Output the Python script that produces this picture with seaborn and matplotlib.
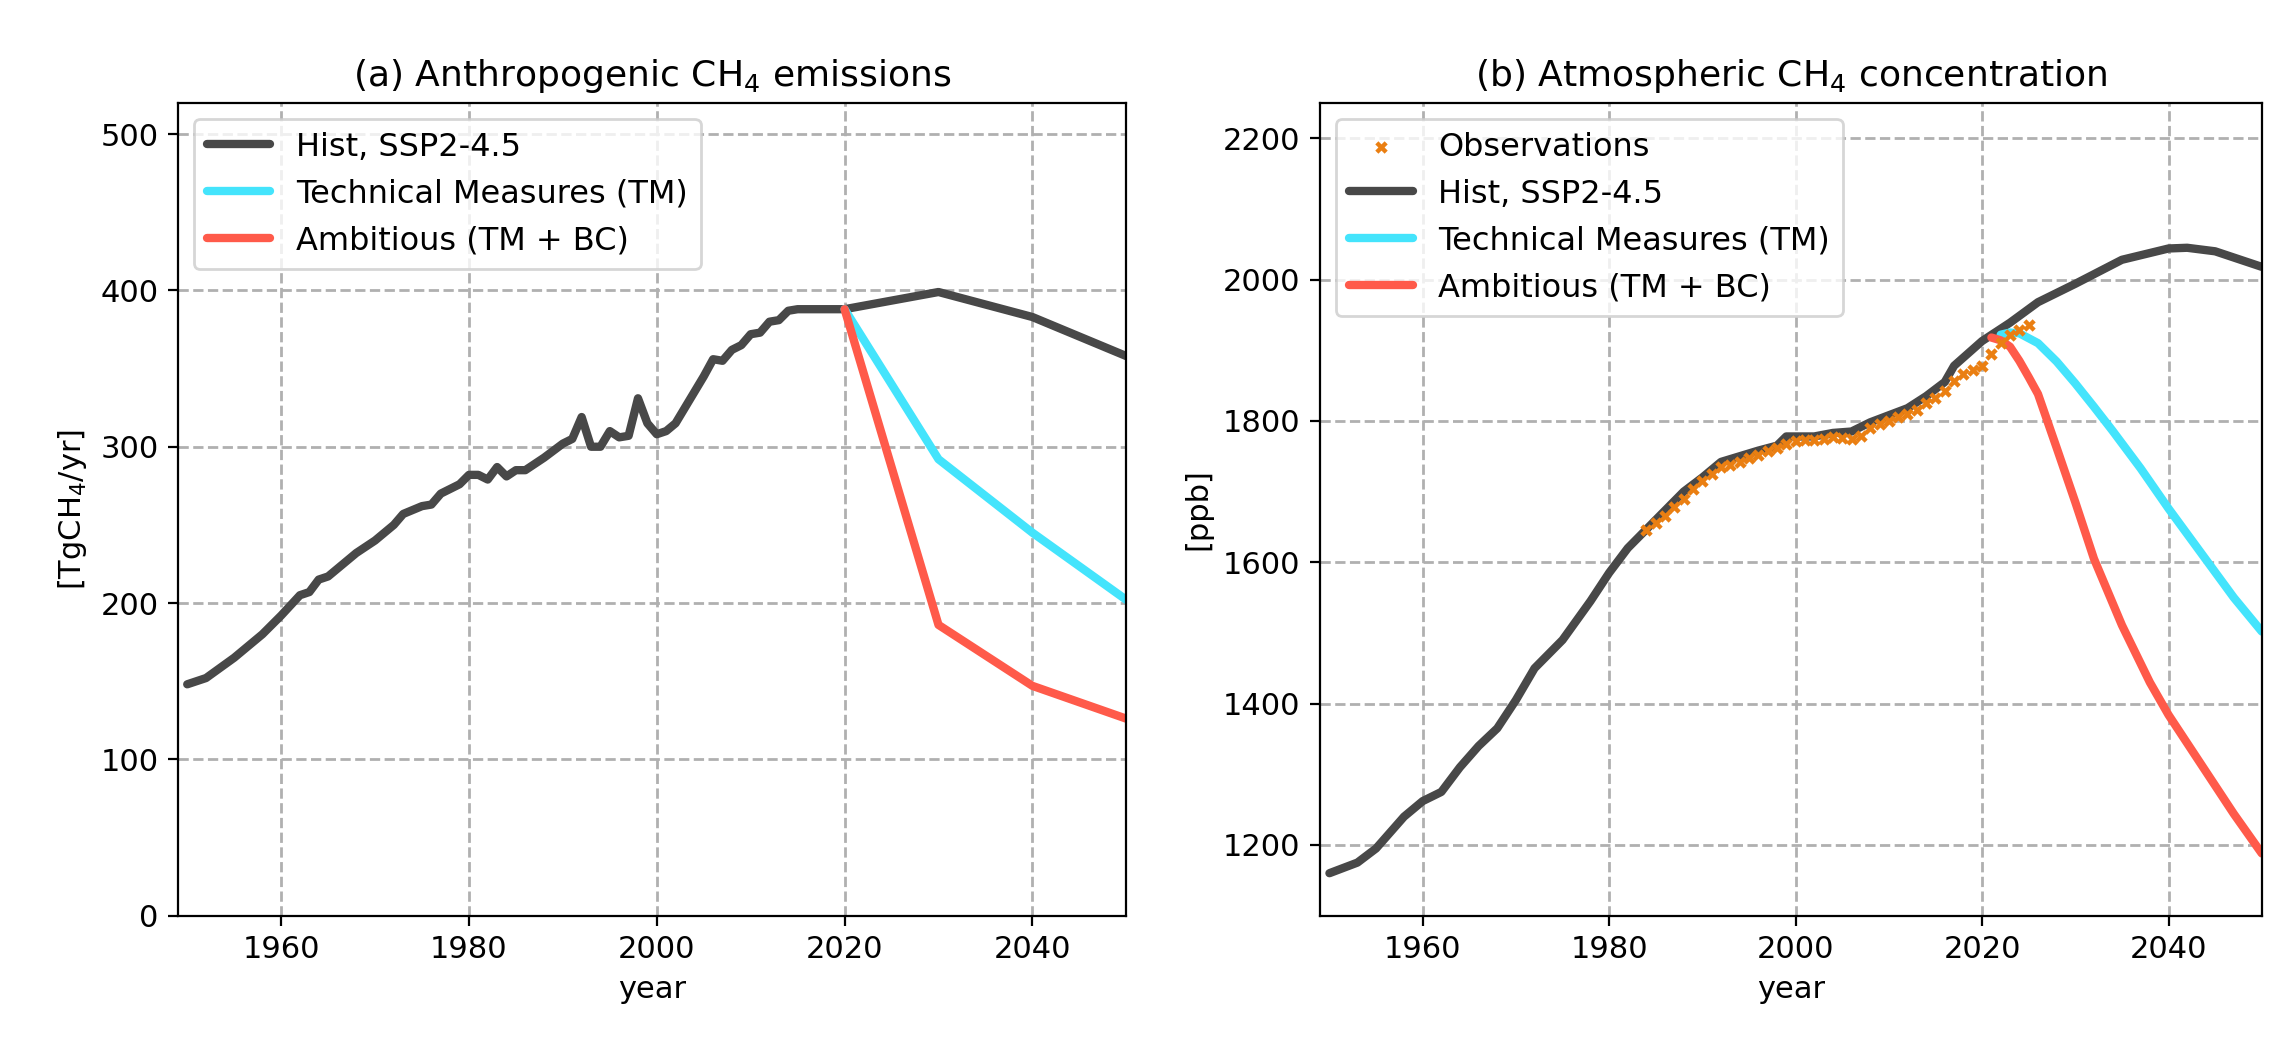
import matplotlib
matplotlib.use("Agg")
import matplotlib.pyplot as plt
import seaborn as sns

hist_em_years = [1950,1952,1955,1958,1960,1962,1963,1964,1965,1966,1968,1970,1972,1973,1975,1976,1977,1979,1980,1981,1982,1983,1984,1985,1986,1988,1990,1991,1992,1993,1994,1995,1996,1997,1998,1999,2000,2001,2002,2003,2004,2005,2006,2007,2008,2009,2010,2011,2012,2013,2014,2015,2020,2030,2040,2050]
hist_em = [148,152,165,180,192,205,207,215,217,222,232,240,250,257,262,263,270,276,282,282,279,287,281,285,285,293,302,305,319,300,300,310,306,307,331,315,308,310,315,325,335,345,356,355,362,365,372,373,380,381,387,388,388,399,383,358]
scen_years = [2020,2030,2040,2050]
tm_em = [388,292,245,202]
amb_em = [388,186,147,126]

hist_c_years = [1950,1953,1955,1958,1960,1962,1964,1966,1968,1970,1972,1975,1978,1980,1982,1985,1988,1990,1992,1994,1996,1998,1999,2000,2002,2004,2006,2008,2010,2012,2014,2016,2017,2020,2023,2026,2030,2035,2040,2042,2045,2050]
hist_c = [1160,1175,1195,1240,1262,1275,1310,1340,1365,1405,1450,1490,1545,1585,1620,1660,1700,1720,1742,1750,1758,1765,1778,1778,1778,1783,1785,1798,1808,1818,1835,1855,1878,1913,1939,1968,1994,2028,2044,2045,2040,2018]
tm_c_years = [2022,2023,2024,2026,2028,2030,2032,2034,2037,2040,2044,2047,2050]
tm_c = [1922,1925,1924,1910,1884,1853,1820,1786,1733,1676,1604,1550,1502]
amb_c_years = [2021,2022,2023,2024,2025,2026,2027,2028,2030,2032,2035,2038,2040,2044,2047,2050]
amb_c = [1918,1914,1905,1885,1862,1838,1800,1762,1685,1605,1511,1430,1384,1304,1244,1188]
obs_years = [1984,1985,1986,1987,1988,1989,1990,1991,1992,1993,1994,1995,1996,1997,1998,1999,2000,2001,2002,2003,2004,2005,2006,2007,2008,2009,2010,2011,2012,2013,2014,2015,2016,2017,2018,2019,2020,2021,2022,2023,2024,2025]
obs = [1645,1655,1665,1678,1690,1703,1715,1725,1735,1737,1742,1748,1752,1757,1762,1768,1772,1773,1773,1775,1777,1776,1775,1778,1790,1795,1800,1805,1810,1815,1825,1833,1843,1857,1866,1872,1878,1894,1910,1921,1929,1936]

sns.set_style("ticks")
plt.rcParams['font.family'] = ['DejaVu Sans']
plt.rcParams['xtick.color'] = 'black'
plt.rcParams['ytick.color'] = 'black'
plt.rcParams['axes.labelcolor'] = 'black'
plt.rcParams['text.color'] = 'black'
dark, cyan, red = '#484848', '#44e4fc', '#ff5a4a'
lw = 3

fig = plt.figure(figsize=(11.4, 5.25), dpi=200)
ax1 = fig.add_axes([0.078, 0.128, 0.416, 0.774])
ax2 = fig.add_axes([0.579, 0.128, 0.413, 0.774])

sns.lineplot(x=hist_em_years, y=hist_em, ax=ax1, color=dark, lw=lw, label='Hist, SSP2-4.5')
sns.lineplot(x=scen_years, y=tm_em, ax=ax1, color=cyan, lw=lw, label='Technical Measures (TM)')
sns.lineplot(x=scen_years, y=amb_em, ax=ax1, color=red, lw=lw, label='Ambitious (TM + BC)')
ax1.set_xlim(1949, 2050); ax1.set_ylim(0, 520)
ax1.set_title('(a) Anthropogenic CH$_4$ emissions', fontsize=13)
ax1.set_ylabel('[TgCH$_4$/yr]'); ax1.set_xlabel('year')

sns.scatterplot(x=obs_years, y=obs, ax=ax2, color='#ea7f12', marker='X', s=20, linewidth=0, label='Observations', zorder=5)
sns.lineplot(x=hist_c_years, y=hist_c, ax=ax2, color=dark, lw=lw, label='Hist, SSP2-4.5')
sns.lineplot(x=tm_c_years, y=tm_c, ax=ax2, color=cyan, lw=lw, label='Technical Measures (TM)')
sns.lineplot(x=amb_c_years, y=amb_c, ax=ax2, color=red, lw=lw, label='Ambitious (TM + BC)')
ax2.set_xlim(1949, 2050); ax2.set_ylim(1100, 2250)
ax2.set_title('(b) Atmospheric CH$_4$ concentration', fontsize=13)
ax2.set_ylabel('[ppb]'); ax2.set_xlabel('year')

for ax in (ax1, ax2):
    ax.set_xticks([1960,1980,2000,2020,2040])
    ax.grid(True, ls='--', color='#b0b0b0', lw=1)
    ax.legend(loc='upper left', fontsize=11.5)
    for s in ax.spines.values():
        s.set_visible(True); s.set_color('black')
    ax.tick_params(labelsize=11, color='black')
    ax.xaxis.label.set_size(11); ax.yaxis.label.set_size(11)

fig.savefig('out.png', dpi=200)
